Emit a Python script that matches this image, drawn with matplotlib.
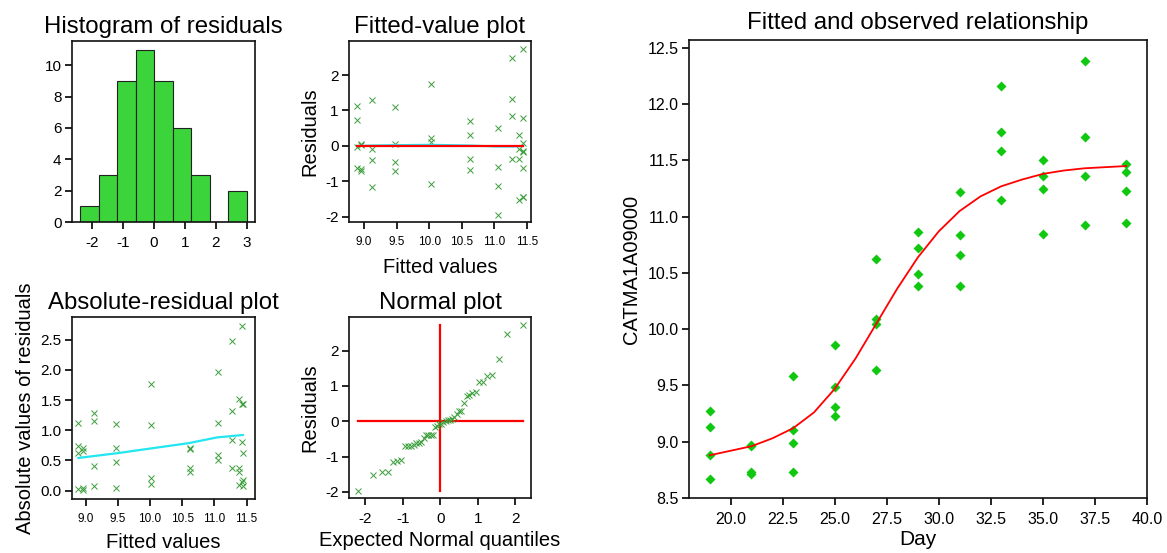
import statistics
import numpy as np
import matplotlib
matplotlib.use("Agg")
import matplotlib.pyplot as plt
from matplotlib.ticker import FormatStrFormatter

plt.rcParams["font.family"] = ["Liberation Sans", "DejaVu Sans"]
plt.rcParams["axes.unicode_minus"] = False

# observed expression, 4 replicates per sampling day
days = [19, 21, 23, 25, 27, 29, 31, 33, 35, 37, 39]
observed = [
    [9.27, 9.13, 8.88, 8.67],
    [8.97, 8.96, 8.73, 8.71],
    [9.58, 9.10, 8.99, 8.73],
    [9.86, 9.49, 9.31, 9.23],
    [10.62, 10.09, 10.05, 9.64],
    [10.86, 10.72, 10.49, 10.38],
    [11.22, 10.84, 10.66, 10.38],
    [12.16, 11.75, 11.58, 11.15],
    [11.50, 11.36, 11.25, 10.85],
    [12.38, 11.71, 11.36, 10.93],
    [11.47, 11.40, 11.23, 10.94],
]

# fitted curve
curve_days = [19, 20, 21, 22, 23, 24, 25, 26, 27, 28, 29, 30,
              31, 32, 33, 34, 35, 36, 37, 38, 39]
curve_values = [8.88, 8.92, 8.96, 9.03, 9.12, 9.26, 9.47, 9.74, 10.05, 10.36,
                10.64, 10.87, 11.05, 11.18, 11.27, 11.33, 11.38, 11.41,
                11.43, 11.44, 11.45]

# fitted value per day and standardised residuals (same order as observed)
fitted_by_day = [8.89, 8.96, 9.13, 9.48, 10.02, 10.62, 11.05, 11.27, 11.38, 11.43, 11.44]
residuals_by_day = [
    [1.12, 0.73, -0.02, -0.62],
    [0.04, 0.01, -0.66, -0.71],
    [1.29, -0.08, -0.40, -1.16],
    [1.10, 0.05, -0.47, -0.71],
    [1.76, 0.21, 0.11, -1.09],
    [0.71, 0.30, -0.38, -0.69],
    [0.51, -0.59, -1.12, -1.96],
    [2.47, 1.31, 0.84, -0.38],
    [0.30, -0.09, -0.38, -1.52],
    [2.73, 0.80, -0.14, -1.44],
    [0.07, -0.17, -0.62, -1.44],
]

# smoothers (cyan lines)
resid_smooth = [0.0, 0.0, 0.01, 0.02, 0.03, 0.01, -0.02, -0.02, -0.01, 0.0, 0.0]
abs_smooth_x = [8.89, 9.5, 10.03, 10.6, 11.04, 11.44]
abs_smooth_y = [0.54, 0.62, 0.70, 0.785, 0.88, 0.92]

hist_edges = [-2.4, -1.8, -1.2, -0.6, 0.0, 0.6, 1.2, 1.8, 2.4, 3.0]

W, H = 1167, 553
fig = plt.figure(figsize=(W / 100, H / 100), dpi=100)

TITLE = 17.3
LABEL = 14.5


def add_ax(l, t, r, b):
    return fig.add_axes([l / W, 1 - b / H, (r - l) / W, (b - t) / H])


def style(ax, tick_size=11):
    for s in ax.spines.values():
        s.set_linewidth(1.2)
        s.set_color("#111111")
    ax.tick_params(direction="out", length=5, width=1.2, labelsize=tick_size,
                   top=False, right=False)
    ax.tick_params(axis="x", pad=5)
    ax.tick_params(axis="y", pad=2.5)


x_green = "#3a9e3a"
resid = [r for rs in residuals_by_day for r in rs]
fit_x = [f for f, rs in zip(fitted_by_day, residuals_by_day) for _ in rs]

# histogram of residuals
ax = add_ax(72, 41, 255, 222)
ax.hist(resid, bins=hist_edges, color="#3bd43b", edgecolor="#222222", linewidth=0.8)
ax.set_xlim(-2.66, 3.27)
ax.set_ylim(0, 11.55)
ax.set_xticks([-2, -1, 0, 1, 2, 3])
ax.set_yticks([0, 2, 4, 6, 8, 10])
style(ax)
ax.set_title("Histogram of residuals", fontsize=TITLE, pad=6)

# fitted-value plot
ax = add_ax(349, 41, 531, 222)
ax.plot(fit_x, resid, "x", color=x_green, ms=4, mew=0.7)
ax.plot(fitted_by_day, resid_smooth, color="#22e6f0", lw=1.5)
ax.plot([min(fitted_by_day), max(fitted_by_day)], [0, 0], color="red", lw=1.6)
ax.set_xlim(8.77, 11.56)
ax.set_ylim(-2.15, 2.96)
ax.set_xticks([9.0, 9.5, 10.0, 10.5, 11.0, 11.5])
ax.set_yticks([-2, -1, 0, 1, 2])
ax.xaxis.set_major_formatter(FormatStrFormatter("%.1f"))
style(ax)
ax.tick_params(axis="x", labelsize=8.5)
ax.set_title("Fitted-value plot", fontsize=TITLE, pad=6)
ax.set_xlabel("Fitted values", fontsize=LABEL, labelpad=7)
ax.set_ylabel("Residuals", fontsize=LABEL, labelpad=4)

# absolute-residual plot
ax = add_ax(72, 317, 255, 499)
ax.plot(fit_x, np.abs(resid), "x", color=x_green, ms=4, mew=0.7)
ax.plot(abs_smooth_x, abs_smooth_y, color="#22e6f0", lw=1.6)
ax.set_xlim(8.79, 11.63)
ax.set_ylim(-0.14, 2.875)
ax.set_xticks([9.0, 9.5, 10.0, 10.5, 11.0, 11.5])
ax.set_yticks([0.0, 0.5, 1.0, 1.5, 2.0, 2.5])
ax.xaxis.set_major_formatter(FormatStrFormatter("%.1f"))
ax.yaxis.set_major_formatter(FormatStrFormatter("%.1f"))
style(ax)
ax.tick_params(axis="x", labelsize=8.5)
ax.set_title("Absolute-residual plot", fontsize=TITLE, pad=6)
ax.set_xlabel("Fitted values", fontsize=LABEL, labelpad=6)
ax.set_ylabel("Absolute values of residuals", fontsize=LABEL, labelpad=4)

# normal plot
n = len(resid)
nd = statistics.NormalDist()
quantiles = [nd.inv_cdf((i + 1 - 0.375) / (n + 0.25)) for i in range(n)]
sorted_resid = sorted(resid)
ax = add_ax(349, 317, 531, 498)
ax.plot([quantiles[0], quantiles[-1]], [0, 0], color="red", lw=1.6)
ax.plot([0, 0], [sorted_resid[0], sorted_resid[-1]], color="red", lw=1.6)
ax.plot(quantiles, sorted_resid, "x", color=x_green, ms=4, mew=0.7)
ax.set_xlim(-2.43, 2.42)
ax.set_ylim(-2.17, 2.95)
ax.set_xticks([-2, -1, 0, 1, 2])
ax.set_yticks([-2, -1, 0, 1, 2])
style(ax)
ax.set_title("Normal plot", fontsize=TITLE, pad=6)
ax.set_xlabel("Expected Normal quantiles", fontsize=LABEL, labelpad=4)
ax.set_ylabel("Residuals", fontsize=LABEL, labelpad=4)

# fitted and observed relationship
ax = add_ax(689, 40, 1147, 498)
obs_x = [d for d, vals in zip(days, observed) for _ in vals]
obs_y = [v for vals in observed for v in vals]
ax.plot(obs_x, obs_y, "D", color="#10c810", ms=5.5, mec="none", zorder=2)
ax.plot(curve_days, curve_values, color="red", lw=1.3, zorder=3)
ax.set_xlim(18, 40)
ax.set_ylim(8.5, 12.57)
ax.set_xticks(np.arange(20, 40.1, 2.5))
ax.set_yticks(np.arange(8.5, 12.51, 0.5))
ax.xaxis.set_major_formatter(FormatStrFormatter("%.1f"))
ax.yaxis.set_major_formatter(FormatStrFormatter("%.1f"))
style(ax, tick_size=11.5)
ax.set_title("Fitted and observed relationship", fontsize=TITLE, pad=8)
ax.set_xlabel("Day", fontsize=LABEL + 0.5, labelpad=2)
ax.set_ylabel("CATMA1A09000", fontsize=LABEL, labelpad=5)

fig.savefig("out.png", dpi=100)
